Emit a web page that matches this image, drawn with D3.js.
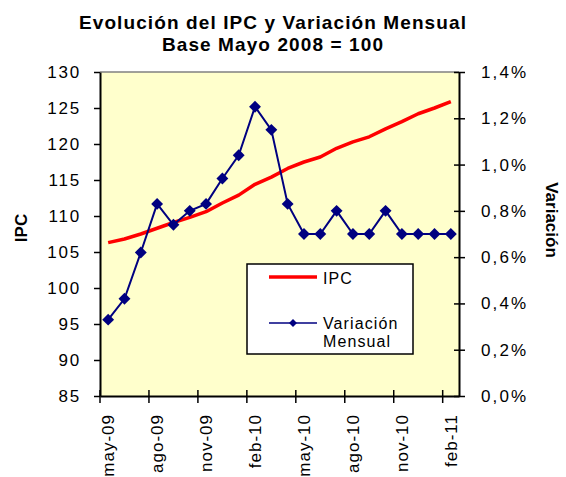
<!DOCTYPE html>
<html>
<head>
<meta charset="utf-8">
<script src="https://cdn.jsdelivr.net/npm/d3@7"></script>
<style>
  body { margin: 0; background: #fff; }
  svg text { font-family: "Liberation Sans", Arial, sans-serif; fill: #000; }
</style>
</head>
<body>
<div id="chart"></div>
<script>

// datos
const months = ["may-09","jun-09","jul-09","ago-09","sep-09","oct-09","nov-09","dic-09","ene-10","feb-10","mar-10",
  "abr-10","may-10","jun-10","jul-10","ago-10","sep-10","oct-10","nov-10","dic-10","ene-11","feb-11"];

const ipc = [106.3,106.8,107.5,108.3,109.1,109.8,110.6,111.8,112.9,114.4,115.4,
  116.6,117.5,118.2,119.4,120.3,121.0,122.1,123.1,124.2,125.0,125.9];

const variacion = [0.0033,0.0042,0.0062,0.0083,0.0074,0.0080,0.0083,0.0094,0.0104,0.0125,0.0115,
  0.0083,0.0070,0.0070,0.0080,0.0070,0.0070,0.0080,0.0070,0.0070,0.0070,0.0070];

const ipcTicks = [85,90,95,100,105,110,115,120,125,130];
const varTicks = [0,0.002,0.004,0.006,0.008,0.010,0.012,0.014];
const monthTicks = months.filter((m, i) => i % 3 == 0);

const width = 566, height = 477;
const plot = { left: 100, right: 459, top: 72, bottom: 396 };

const svg = d3.select("#chart").append("svg")
  .attr("width", width)
  .attr("height", height);

// escalas
const x = d3.scaleBand().domain(months).range([plot.left, plot.right]);
const bw = x.bandwidth();
const yL = d3.scaleLinear().domain([85, 130]).range([plot.bottom, plot.top]);
const yR = d3.scaleLinear().domain([0, 0.014]).range([plot.bottom, plot.top]);

// fondo del area
svg.append("rect")
  .attr("x", plot.left).attr("y", plot.top)
  .attr("width", plot.right - plot.left).attr("height", plot.bottom - plot.top)
  .attr("fill", "#FFFFCC");
svg.append("line")
  .attr("x1", plot.left).attr("x2", plot.right)
  .attr("y1", plot.top).attr("y2", plot.top)
  .attr("stroke", "#808080").attr("stroke-width", 1.5);

// titulo
const title = svg.append("text")
  .attr("text-anchor", "middle")
  .style("font-size", "19px").style("font-weight", "bold")
  .style("letter-spacing", "1.1px");
title.append("tspan").attr("x", 273).attr("y", 29).text("Evolución del IPC y Variación Mensual");
title.append("tspan").attr("x", 273).attr("y", 51).text("Base Mayo 2008 = 100");

// ejes
const gL = svg.append("g")
  .attr("transform", `translate(${plot.left},0)`)
  .call(d3.axisLeft(yL).tickValues(ipcTicks).tickSize(6).tickSizeOuter(0).tickPadding(13));

const gR = svg.append("g")
  .attr("transform", `translate(${plot.right},0)`)
  .call(d3.axisRight(yR).tickValues(varTicks).tickSize(6).tickSizeOuter(0).tickPadding(16)
    .tickFormat(d => (d * 100).toFixed(1).replace(".", ",") + "%"));
gR.selectAll(".tick line").attr("x1", -5);

const gX = svg.append("g")
  .attr("transform", `translate(0,${plot.bottom})`)
  .call(d3.axisBottom(x).tickValues(monthTicks).tickSize(7).tickSizeOuter(0));
gX.selectAll(".tick line").attr("transform", `translate(${-bw / 2},0)`).attr("y1", -6);
gX.selectAll(".tick text")
  .attr("transform", "rotate(-90)")
  .attr("text-anchor", "end")
  .attr("x", -18).attr("y", 0).attr("dy", "0.36em")
  .style("letter-spacing", "1px");

[gL, gR, gX].forEach(g => {
  g.selectAll(".domain").attr("stroke", "#000").attr("stroke-width", 2);
  g.selectAll(".tick line").attr("stroke", "#000").attr("stroke-width", 1.5);
  g.selectAll(".tick text").style("font-size", "17px").attr("fill", "#000");
});
gL.selectAll(".tick text").style("letter-spacing", "1.8px");
gR.selectAll(".tick text").style("letter-spacing", "2.1px");

// titulos de ejes
svg.append("text")
  .attr("transform", "translate(27,228) rotate(-90)")
  .attr("text-anchor", "middle")
  .style("font-size", "17px").style("font-weight", "bold")
  .text("IPC");

svg.append("text")
  .attr("transform", "translate(546,220) rotate(90)")
  .attr("text-anchor", "middle")
  .style("font-size", "17px").style("font-weight", "bold")
  .text("Variación");

// linea IPC
const ipcLine = d3.line()
  .x((d, i) => x(months[i]) + bw / 2)
  .y(d => yL(d));

svg.append("path")
  .datum(ipc)
  .attr("fill", "none")
  .attr("stroke", "#FF0000")
  .attr("stroke-width", 3.5)
  .attr("stroke-linejoin", "round")
  .attr("d", ipcLine);

// linea variacion
const varLine = d3.line()
  .x((d, i) => x(months[i]) + bw / 2)
  .y(d => yR(d));

svg.append("path")
  .datum(variacion)
  .attr("fill", "none")
  .attr("stroke", "#000080")
  .attr("stroke-width", 2)
  .attr("d", varLine);

const diamond = d3.symbol().type(d3.symbolDiamond2).size(90);

svg.selectAll(".mark")
  .data(variacion)
  .enter()
  .append("path")
  .attr("class", "mark")
  .attr("d", diamond)
  .attr("transform", (d, i) => `translate(${x(months[i]) + bw / 2},${yR(d)})`)
  .attr("fill", "#000080");

// leyenda
const leg = svg.append("g");
leg.append("rect")
  .attr("x", 247).attr("y", 264).attr("width", 166).attr("height", 90)
  .attr("fill", "#fff").attr("stroke", "#000").attr("stroke-width", 1.5);
leg.append("line")
  .attr("x1", 269).attr("x2", 317).attr("y1", 277).attr("y2", 277)
  .attr("stroke", "#FF0000").attr("stroke-width", 3.5);
leg.append("text").attr("x", 323).attr("y", 284)
  .style("font-size", "16px").style("letter-spacing", "1.1px").text("IPC");
leg.append("line")
  .attr("x1", 269).attr("x2", 317).attr("y1", 323).attr("y2", 323)
  .attr("stroke", "#000080").attr("stroke-width", 1.5);
leg.append("path")
  .attr("d", d3.symbol().type(d3.symbolDiamond2).size(40))
  .attr("transform", "translate(293,323)")
  .attr("fill", "#000080");
const lt = leg.append("text").style("font-size", "16px").style("letter-spacing", "1.1px");
lt.append("tspan").attr("x", 323).attr("y", 329).text("Variación");
lt.append("tspan").attr("x", 323).attr("y", 347).text("Mensual");

</script>
</body>
</html>
